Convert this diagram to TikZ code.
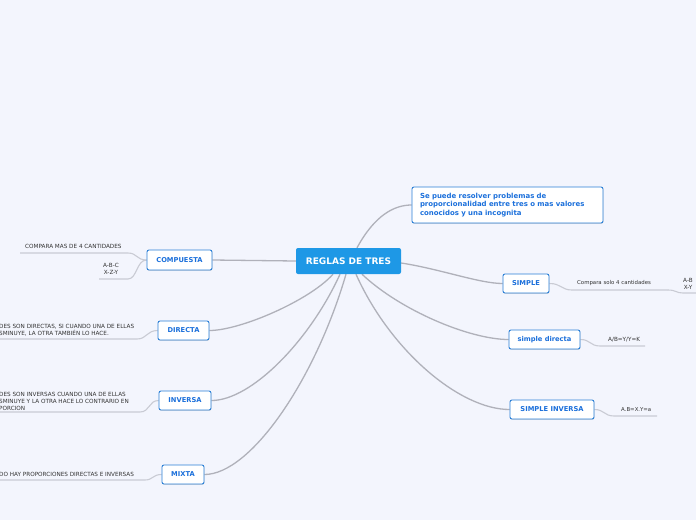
\documentclass[tikz,border=0pt]{standalone}
\usepackage{fontspec}
\setmainfont{DejaVu Sans}
\usetikzlibrary{calc,shadows}
\definecolor{bg}{HTML}{F3F5FD}
\definecolor{mainblue}{HTML}{1E98E6}
\definecolor{bordblue}{HTML}{2A7FD6}
\definecolor{txtblue}{HTML}{1A6FDB}
\definecolor{conn}{HTML}{B0B1BA}
\definecolor{leafline}{HTML}{C9CBD4}
\definecolor{leaftxt}{HTML}{333333}
\pgfdeclarelayer{backfill}
\pgfdeclarelayer{lines}
\pgfsetlayers{backfill,lines,main}
\tikzset{
  mainbox/.style={fill=mainblue, text=white, rounded corners=2pt, minimum width=105pt, minimum height=26pt, inner sep=0pt, font=\fontsize{9}{10}\selectfont\bfseries},
  topicbox/.style={draw=bordblue, fill=white, text=txtblue, rounded corners=2pt, line width=0.9pt, inner sep=0pt, font=\fontsize{6.7}{8}\selectfont\bfseries, drop shadow={shadow xshift=0.4pt, shadow yshift=-0.8pt, opacity=0.25}},
  leaf/.style={text=leaftxt, inner sep=0pt, font=\fontsize{5.4}{7}\selectfont},
  capleaf/.style={leaf, font=\fontsize{5.7}{7}\selectfont},
  mainconn/.style={draw=conn, line width=1.3pt},
  leafconn/.style={draw=leafline, line width=1.1pt},
}
\begin{document}
\begin{tikzpicture}[x=1pt,y=-1pt]
\useasboundingbox (0,0) rectangle (696,520);
\begin{pgfonlayer}{backfill}
\fill[bg] (0,0) rectangle (696,520);
\end{pgfonlayer}
\clip (0,0) rectangle (696,520);

% central
\node[mainbox] (c) at (348.5,261) {REGLAS DE TRES};

% topics
\node[topicbox, minimum width=191pt, minimum height=36pt, text width=175pt, align=left, font=\fontsize{6.95}{8.5}\selectfont\bfseries] (top) at (507.5,205) {Se puede resolver problemas de\\proporcionalidad entre tres o mas valores\\conocidos y una incognita};
\node[topicbox, minimum width=65pt, minimum height=20pt] (comp) at (179.5,260) {COMPUESTA};
\node[topicbox, minimum width=51pt, minimum height=19pt] (dir) at (183.5,330.5) {DIRECTA};
\node[topicbox, minimum width=52pt, minimum height=19pt] (inv) at (185,400.5) {INVERSA};
\node[topicbox, minimum width=42pt, minimum height=19pt] (mix) at (183,474.5) {MIXTA};
\node[topicbox, minimum width=46pt, minimum height=19pt] (sim) at (526,283.5) {SIMPLE};
\node[topicbox, minimum width=71pt, minimum height=19pt] (sdir) at (544.5,339.5) {simple directa};
\node[topicbox, minimum width=84pt, minimum height=19pt] (sinv) at (552,409.5) {SIMPLE INVERSA};

% leaf texts
\node[capleaf, anchor=west] (t1) at (25,246.5) {COMPARA MAS DE 4 CANTIDADES};
\node[capleaf, align=center] (t2) at (111,269) {A-B-C\\X-Z-Y};
\node[capleaf, anchor=west, align=left] (t3) at (-1,330.5) {DES SON DIRECTAS, SI CUANDO UNA DE ELLAS\\SMINUYE, LA OTRA TAMBIÉN LO HACE.};
\node[capleaf, anchor=west, align=left] (t4) at (-1,401) {DES SON INVERSAS CUANDO UNA DE ELLAS\\SMINUYE Y LA OTRA HACE LO CONTRARIO EN\\PORCION};
\node[capleaf, anchor=west] (t5) at (-1,474) {DO HAY PROPORCIONES DIRECTAS E INVERSAS};
\node[leaf, anchor=west] (t6) at (577,283) {Compara solo 4 cantidades};
\node[capleaf, align=center] (t7) at (688,283.5) {A-B\\X-Y};
\node[capleaf, anchor=west] (t8) at (608,340) {A/B=Y/Y=K};
\node[leaf, anchor=west] (t9) at (621,410) {A.B=X.Y=a};

\begin{pgfonlayer}{lines}
% main connectors
\path[mainconn] ([xshift=8.5pt]c.north) .. controls +(18,-33) and +(-17,0) .. (top.west);
\path[mainconn] (c.west) -- (comp.east);
\path[mainconn] ([xshift=-15.5pt]c.south) .. controls +(-23,26) and +(31,0) .. (dir.east);
\path[mainconn] ([xshift=-8.5pt]c.south) .. controls +(-30,66) and +(40,0) .. (inv.east);
\path[mainconn] ([xshift=-2.5pt]c.south) .. controls +(-31,106) and +(46,0) .. (mix.east);
\path[mainconn] ([yshift=-2pt]c.east) .. controls +(39,6) and +(-23,0) .. (sim.west);
\path[mainconn] ([xshift=13.5pt]c.south) .. controls +(38,36) and +(-39,0) .. (sdir.west);
\path[mainconn] ([xshift=7.5pt]c.south) .. controls +(34,76) and +(-50,0) .. (sinv.west);

% leaf lines
\coordinate (l1a) at (128,253); \coordinate (l1b) at (20,253);
\coordinate (l2a) at (128,279); \coordinate (l2b) at (99,279);
\coordinate (l3a) at (137,339); \coordinate (l3b) at (-2,339);
\coordinate (l4a) at (140,412); \coordinate (l4b) at (-2,412);
\coordinate (l5a) at (145,480); \coordinate (l5b) at (-2,480);
\coordinate (l6a) at (572,290); \coordinate (l6b) at (668,290);
\coordinate (l7a) at (683,293); \coordinate (l7b) at (698,293);
\coordinate (l8a) at (600,346); \coordinate (l8b) at (645,346);
\coordinate (l9a) at (614,416); \coordinate (l9b) at (657,416);

\path[leafconn] (comp.west) .. controls +(-10,0) and +(9,0) .. (l1a) -- (l1b);
\path[leafconn] (comp.west) .. controls +(-10,0) and +(9,0) .. (l2a) -- (l2b);
\path[leafconn] (dir.west) .. controls +(-11,0) and +(10,0) .. (l3a) -- (l3b);
\path[leafconn] (inv.west) .. controls +(-10,0) and +(10,0) .. (l4a) -- (l4b);
\path[leafconn] (mix.west) .. controls +(-9,0) and +(8,0) .. (l5a) -- (l5b);
\path[leafconn] (sim.east) .. controls +(12,0) and +(-11,0) .. (l6a) -- (l6b);
\path[leafconn] (l6b) .. controls +(8,0) and +(-7,0) .. (l7a) -- (l7b);
\path[leafconn] (sdir.east) .. controls +(10,0) and +(-10,0) .. (l8a) -- (l8b);
\path[leafconn] (sinv.east) .. controls +(10,0) and +(-10,0) .. (l9a) -- (l9b);
\end{pgfonlayer}
\end{tikzpicture}
\end{document}
